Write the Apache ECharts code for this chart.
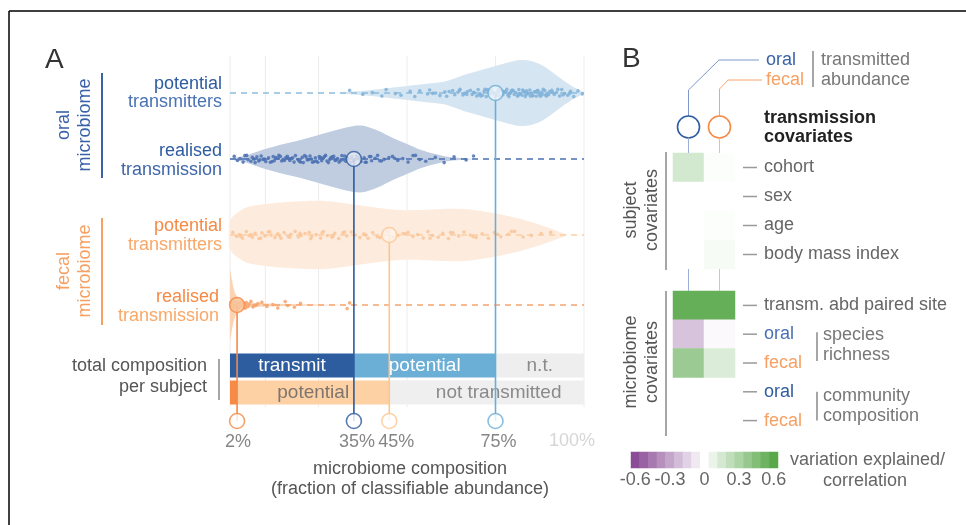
<!DOCTYPE html>
<html><head><meta charset="utf-8">
<script src="https://cdn.jsdelivr.net/npm/echarts@6/dist/echarts.min.js"></script>
<style>html,body{margin:0;padding:0;background:#fff}#c{width:966px;height:525px}</style>
</head><body><div id="c"></div>
<script>
// ================= DATA =================
const rows = ['oral potential transmitters', 'oral realised transmission', 'fecal potential transmitters', 'fecal realised transmission'];
const medians = [75, 35, 45, 2];

const dotsOralPot = [33.8, 37.5, 40.2, 42.9, 44.1, 46.7, 48.3, 50.9, 52.2, 53.6, 55.8, 56.4, 58.1, 59.3, 60.7, 61.2, 62.9, 63.5, 64.4, 65.0, 65.8, 66.3, 67.1, 67.9, 68.4, 69.0, 69.7, 70.1, 70.6, 71.3, 71.8, 72.4, 72.9, 73.3, 73.8, 74.5, 74.9, 75.6, 76.2, 76.7, 77.1, 77.6, 78.2, 78.5, 79.0, 79.4, 79.9, 80.3, 80.7, 81.2, 81.6, 82.0, 82.5, 82.9, 83.4, 83.8, 84.3, 84.7, 85.1, 85.6, 86.0, 86.5, 87.0, 87.4, 87.9, 88.5, 89.1, 89.6, 90.3, 90.9, 91.6, 92.2, 93.1, 93.7, 94.5, 95.4, 96.2, 97.1, 98.3, 99.5, 76.0, 79.2, 81.4, 83.1, 84.9, 86.8, 88.2, 74.1, 72.0, 70.4,
  57.3, 61.9, 64.8, 66.9, 68.8, 70.9, 72.7, 73.6, 75.3, 77.9, 78.8, 80.0, 81.9, 82.7, 84.0, 85.4, 86.2, 87.7, 88.9, 90.0, 91.1, 92.6, 94.0, 95.9, 77.3, 79.6, 83.6, 86.9, 89.4, 75.9];
const dotsOralReal = [1.2, 2.1, 2.8, 3.7, 4.2, 5.1, 5.9, 6.3, 7.1, 7.6, 8.4, 8.8, 9.7, 10.1, 10.9, 11.4, 12.2, 12.5, 13.4, 13.8, 14.6, 15.0, 15.8, 16.2, 16.9, 17.3, 18.1, 18.5, 19.2, 19.6, 20.4, 20.7, 21.5, 21.8, 22.6, 22.9, 23.7, 24.1, 24.8, 25.2, 25.9, 26.3, 27.0, 27.4, 28.2, 28.5, 29.3, 29.7, 30.4, 30.8, 31.6, 32.0, 32.7, 33.1, 34.0, 34.4, 35.3, 35.7, 36.6, 37.0, 37.9, 38.5, 39.4, 40.0, 41.0, 41.7, 42.8, 43.5, 44.9, 45.9, 47.4, 48.8, 50.3, 51.7, 53.6, 55.3, 58.0, 60.5, 63.3, 66.7, 68.8, 6.8, 11.9, 17.7, 23.3, 26.7, 31.2, 36.1,
  4.7, 8.1, 9.3, 12.9, 14.2, 15.4, 16.6, 19.9, 21.1, 22.2, 24.4, 25.6, 27.8, 28.9, 30.0, 32.4, 33.6, 34.8, 36.3, 38.2, 39.8, 42.3, 46.5, 52.4];
const dotsFecalPot = [0.8, 1.9, 2.7, 3.5, 4.6, 5.4, 6.3, 7.1, 8.2, 9.0, 9.9, 10.8, 11.6, 12.7, 13.5, 14.4, 15.3, 16.5, 17.2, 18.4, 19.3, 20.1, 21.2, 22.4, 23.1, 24.3, 25.6, 26.4, 27.5, 28.8, 29.6, 30.7, 31.9, 33.0, 34.2, 35.3, 36.7, 37.8, 39.0, 40.3, 41.6, 43.2, 44.5, 46.1, 47.4, 48.9, 50.3, 51.7, 53.0, 54.6, 55.9, 57.2, 58.8, 60.1, 61.7, 63.0, 64.6, 66.1, 67.9, 69.5, 71.2, 73.0, 74.7, 76.5, 78.6, 80.4, 82.8, 85.1, 87.9, 90.6,
  3.0, 5.9, 8.7, 11.2, 14.0, 16.9, 19.8, 22.8, 26.0, 29.1, 32.4, 38.3, 42.4, 49.6, 56.5, 62.3, 68.7, 75.6, 79.5];
const dotsFecalReal = [0.3, 0.6, 0.9, 1.1, 1.4, 1.7, 1.9, 2.2, 2.4, 2.7, 2.9, 3.2, 3.4, 3.7, 4.0, 4.3, 4.6, 5.0, 5.4, 5.9, 6.5, 7.2, 7.9, 9.0, 10.4, 12.1, 13.5, 15.6, 16.3, 18.2, 19.9, 33.1, 33.8];

// violin outlines: [percent, half-height of density]
const violinOralPot = [[30, 0], [35, 1.5], [40, 3], [45, 5], [50, 7], [55, 9], [60, 11], [63, 14], [66, 18], [70, 22], [75, 27], [79, 31], [82, 33], [85, 32], [88, 28], [91, 21], [94, 13], [97, 6], [100, 0.5]];
const violinOralReal = [[0, 0.5], [2, 1.5], [5, 4], [9, 9], [14, 14], [20, 19], [25, 24], [30, 29], [35, 33], [38, 33], [42, 28], [46, 21], [50, 15], [54, 9], [58, 5], [62, 2], [66, 0.8], [69, 0]];
const violinFecalPot = [[0, 14], [2, 22], [5, 28], [10, 31], [16, 33], [22, 34], [27, 34], [32, 32], [36, 30], [42, 27], [48, 25], [54, 25], [60, 26], [66, 26], [71, 24], [76, 21], [81, 17], [86, 12], [91, 6], [95.5, 0]];
const violinFecalReal = [[0, 36], [0.4, 28], [0.9, 18], [1.5, 11], [2.5, 6], [4, 3.5], [6, 2.2], [10, 1.4], [16, 1], [24, 0.6], [35, 0]];

const gridTicks = [0, 10, 25, 50, 75, 100];
const pctTicks = [2, 35, 45, 75, 100];

const compositionRows = ['oral', 'fecal'];
const compTransmit = [medians[1], medians[3]];
const compPotential = [medians[0] - medians[1], medians[2] - medians[3]];
const compNot = [100 - medians[0], 100 - medians[2]];

const heatCols = ['oral', 'fecal'];
const subjectCovariates = ['cohort', 'sex', 'age', 'body mass index'];
const subjectOral = [0.16, 0, 0, 0];
const subjectFecal = [0.01, 0, 0.01, 0.03];
const microbiomeCovariates = ['transm. abd paired site', 'oral species richness', 'fecal species richness', 'oral community composition', 'fecal community composition'];
const microbiomeOral = [0.55, -0.2, 0.36, null, null];
const microbiomeFecal = [0.55, -0.02, 0.13, null, null];
const colorSteps = [-0.6, -0.525, -0.45, -0.375, -0.3, -0.225, -0.15, -0.075, 0, 0.075, 0.15, 0.225, 0.3, 0.375, 0.45, 0.525, 0.6];
const colorTicks = [-0.6, -0.3, 0, 0.3, 0.6];

// ================= LAYOUT / STYLE =================
const FONT = '"Liberation Sans", Arial, sans-serif';
const ROW_Y = [53, 119, 195, 265];
const BOTTOM_Y = 381;
const GRID_Y0 = 16, GRID_Y1 = 367;
const JITTER = [-2.6, 1.4, -0.4, 3.1, -3.4, 0.6, 2.2, -1.6, 3.6, -2.1, 0.9, -3.0, 0.1, 2.6, -1.1, 3.3, -2.4, 1.7, -0.7, -3.6, 2.0, 0.4, -1.4];
const VIOLINS = [violinOralPot, violinOralReal, violinFecalPot, violinFecalReal];
const DOTS = [dotsOralPot, dotsOralReal, dotsFecalPot, dotsFecalReal];
const VIOLIN_FILL = ['#d5e5f2', '#c0cde1', '#fdecde', '#fbd3b5'];
const DOT_COLOR = ['#80b1d8', '#4a70b2', '#f9c699', '#f6a26b'];
const DASH_COLOR = ['#8cbde0', '#4b70b3', '#fccea4', '#f6a46d'];
const LINE_COLOR = ['#6aaed6', '#2c5a9f', '#fcc692', '#f58a45'];
const CIRCLE_FILL = ['#eef3f9', '#e8ecf4', '#fdf3ea', '#f9c9a4'];
const PCT_COLOR = ['#666', '#666', '#666', '#666', '#ccc'];
const PCT_DX = [1, 3, 7, 3, -12];
const PCT_LINE = [3, 1, 2, 0, -1];

const B1 = {left: 673, top: 153, width: 62, height: 116};
const B2 = {left: 673, top: 291, width: 62, height: 144};

const series = [];

// gridlines
gridTicks.forEach(t => series.push({
  type: 'line', xAxisIndex: 0, yAxisIndex: 0, silent: true, symbol: 'none', z: 1,
  data: [[t, GRID_Y0], [t, GRID_Y1]], lineStyle: {color: '#ececec', width: 1}
}));

// violins
series.push({
  type: 'custom', xAxisIndex: 0, yAxisIndex: 0, silent: true, z: 2,
  data: rows.map((r, i) => [i, ROW_Y[i]]),
  renderItem: function (params, api) {
    const i = api.value(0);
    const prof = VIOLINS[i], cy = ROW_Y[i];
    const top = prof.map(p => api.coord([p[0], cy - p[1]]));
    const bot = prof.slice().reverse().map(p => api.coord([p[0], cy + p[1]]));
    return {type: 'polygon', shape: {points: top.concat(bot), smooth: i === 3 ? 0 : 0.3}, style: {fill: VIOLIN_FILL[i]}};
  }
});

// dashed row lines
rows.forEach((r, i) => series.push({
  type: 'line', xAxisIndex: 0, yAxisIndex: 0, silent: true, symbol: 'none', z: 3,
  data: [[0, ROW_Y[i]], [100, ROW_Y[i]]], lineStyle: {color: DASH_COLOR[i], width: 1.5, type: [6, 5]}
}));

// dots
rows.forEach((r, i) => series.push({
  type: 'scatter', name: r, xAxisIndex: 0, yAxisIndex: 0, silent: true, z: 4,
  symbolSize: 3.6, itemStyle: {color: DOT_COLOR[i], opacity: 0.85},
  data: DOTS[i].map((x, k) => [x, ROW_Y[i] + JITTER[k % JITTER.length]])
}));

// vertical median lines
rows.forEach((r, i) => series.push({
  type: 'line', xAxisIndex: 0, yAxisIndex: 0, silent: true, symbol: 'none', z: 6,
  data: [[medians[i], ROW_Y[i]], [medians[i], BOTTOM_Y]], lineStyle: {color: LINE_COLOR[i], width: 1.6}
}));

// median circles in rows
series.push({
  type: 'scatter', xAxisIndex: 0, yAxisIndex: 0, silent: true, z: 7, symbolSize: 15,
  data: rows.map((r, i) => ({value: [medians[i], ROW_Y[i]], itemStyle: {color: CIRCLE_FILL[i], borderColor: LINE_COLOR[i], borderWidth: 1.6}}))
});

// bottom circles + percent labels
series.push({
  type: 'scatter', xAxisIndex: 0, yAxisIndex: 0, silent: true, z: 7, clip: false,
  data: pctTicks.map((v, k) => {
    const li = PCT_LINE[k];
    return {
      value: [v, BOTTOM_Y], name: v + '%',
      symbolSize: li >= 0 ? 15 : 0,
      itemStyle: {color: '#fff', borderColor: li >= 0 ? LINE_COLOR[li] : '#fff', borderWidth: 1.6},
      label: {show: true, position: 'bottom', distance: li >= 0 ? 4 : 11.5, formatter: '{b}', offset: [PCT_DX[k], 0], color: PCT_COLOR[k], fontSize: 18, fontFamily: FONT}
    };
  })
});

// composition bars
const barLabel = (txt, col) => ({show: true, position: 'inside', formatter: txt, color: col, fontSize: 19, fontFamily: FONT});
series.push({
  type: 'bar', name: 'transmitted', stack: 'total', xAxisIndex: 1, yAxisIndex: 1, barWidth: 24, z: 3, silent: true,
  data: [
    {value: compTransmit[0], itemStyle: {color: '#2d5c9f'}, label: barLabel('transmit', '#fff')},
    {value: compTransmit[1], itemStyle: {color: '#f68a46'}}
  ]
});
series.push({
  type: 'bar', name: 'potential', stack: 'total', xAxisIndex: 1, yAxisIndex: 1, barWidth: 24, z: 3, silent: true,
  data: [
    {value: compPotential[0], itemStyle: {color: '#6baed6'}, label: barLabel('potential', '#fff')},
    {value: compPotential[1], itemStyle: {color: '#fdd1a3'}, label: barLabel('potential', '#7d7570')}
  ]
});
series.push({
  type: 'bar', name: 'not transmitted', stack: 'total', xAxisIndex: 1, yAxisIndex: 1, barWidth: 24, z: 3, silent: true,
  data: [
    {value: compNot[0], itemStyle: {color: '#efeeee'}, label: barLabel('n.t.', '#8a8a8a')},
    {value: compNot[1], itemStyle: {color: '#f0efef'}, label: Object.assign(barLabel('not transmitted', '#8a8a8a'), {offset: [12, 0]})}
  ]
});

// heatmaps
const hm = (oral, fecal) => {
  const d = [];
  oral.forEach((v, r) => { if (v !== null) d.push([0, r, v]); });
  fecal.forEach((v, r) => { if (v !== null) d.push([1, r, v]); });
  return d;
};
series.push({type: 'heatmap', xAxisIndex: 2, yAxisIndex: 2, silent: true, data: hm(subjectOral, subjectFecal), itemStyle: {borderWidth: 0}});
series.push({type: 'heatmap', xAxisIndex: 3, yAxisIndex: 3, silent: true, data: hm(microbiomeOral, microbiomeFecal), itemStyle: {borderWidth: 0}});
series.push({type: 'heatmap', xAxisIndex: 4, yAxisIndex: 4, silent: true, data: colorSteps.map((v, k) => [k, 0, v])});
const HM_SERIES = [series.length - 3, series.length - 2, series.length - 1];

// ================= GRAPHICS (labels, annotation) =================
const g = [];
const T = (text, x, y, o) => {
  o = o || {};
  g.push({
    type: 'text', x: x, y: y, rotation: o.rot || 0, z: 100, silent: true,
    style: {text: text, fill: o.color || '#555', font: (o.weight || 'normal') + ' ' + (o.size || 18) + 'px ' + FONT,
      align: o.align || 'left', verticalAlign: 'middle', lineHeight: o.lh || 21}
  });
};
const L = (x1, y1, x2, y2, color, w) => g.push({type: 'line', silent: true, z: 90, shape: {x1, y1, x2, y2}, style: {stroke: color, lineWidth: w || 1.5}});
const P = (pts, color, w) => g.push({type: 'polyline', silent: true, z: 90, shape: {points: pts}, style: {stroke: color, lineWidth: w || 1, fill: null}});
const C = (cx, cy, r, color) => g.push({type: 'circle', silent: true, z: 90, shape: {cx, cy, r}, style: {stroke: color, lineWidth: 1.6, fill: '#fff'}});

// figure border
L(9, 11, 966, 11, '#000', 1.5);
L(9, 11, 9, 525, '#000', 1.5);

// Panel A
T('A', 45, 60, {size: 28, color: '#333'});
T('oral\nmicrobiome', 75, 125, {rot: Math.PI / 2, color: '#3a62a8', align: 'center'});
T('fecal\nmicrobiome', 75, 271, {rot: Math.PI / 2, color: '#f7a063', align: 'center'});
L(102, 73, 102, 178, '#3a62a8', 2);
L(102, 218, 102, 325, '#f7a063', 2);
T('potential', 222, 84, {align: 'right', color: '#2e5ca0'});
T('transmitters', 222, 102, {align: 'right', color: '#4a72b4'});
T('realised', 222, 151, {align: 'right', color: '#2e5ca0'});
T('transmission', 222, 170, {align: 'right', color: '#3f66aa'});
T('potential', 222, 226, {align: 'right', color: '#f58a45'});
T('transmitters', 222, 245, {align: 'right', color: '#f9a868'});
T('realised', 219, 297, {align: 'right', color: '#f58a45'});
T('transmission', 219, 316, {align: 'right', color: '#f9a868'});
T('total composition', 207, 366, {align: 'right', color: '#555'});
T('per subject', 207, 387, {align: 'right', color: '#555'});
L(219, 359, 219, 400, '#888', 1.5);
T('microbiome composition', 410, 469, {align: 'center', color: '#555'});
T('(fraction of classifiable abundance)', 410, 489, {align: 'center', color: '#555'});

// Panel B
T('B', 622, 59, {size: 28, color: '#333'});
const colX = [B1.left + B1.width / 4, B1.left + 3 * B1.width / 4];
P([[759, 60], [719, 60], [colX[0], 90], [colX[0], 116]], '#7d98c9', 1);
P([[762, 80], [728, 80], [colX[1], 89], [colX[1], 116]], '#f7a46d', 1);
C(colX[0], 127, 11, '#2e5ca0');
C(colX[1], 127, 11, '#f58a45');
[0, 1].forEach(k => {
  const c = k === 0 ? '#9bb0d6' : '#f9b98e';
  L(colX[k], 138, colX[k], B1.top, c, 1);
  L(colX[k], B1.top + B1.height, colX[k], B2.top, c, 1);
});
T('oral', 766, 60, {color: '#3a62a8'});
T('fecal', 766, 80, {color: '#f7a063'});
L(813, 51, 813, 87, '#888', 1.5);
T('transmitted', 821, 60, {color: '#777'});
T('abundance', 821, 80, {color: '#777'});
T('transmission', 764, 118, {color: '#222', weight: 'bold'});
T('covariates', 764, 137, {color: '#222', weight: 'bold'});

const rowLabel = (txt, y, color) => { L(743, y, 757, y, '#9a9a9a', 1.5); T(txt, 764, y, {color: color || '#666'}); };
const h1 = B1.height / subjectCovariates.length;
subjectCovariates.forEach((s, k) => rowLabel(s, B1.top + (k + 0.5) * h1));
const h2 = B2.height / microbiomeCovariates.length;
const mLabels = ['transm. abd paired site', 'oral', 'fecal', 'oral', 'fecal'];
const mColors = ['#666', '#4a70b4', '#f7a063', '#2e5ca0', '#f7a063'];
mLabels.forEach((s, k) => rowLabel(s, B2.top + (k + 0.5) * h2, mColors[k]));
const yr = k => B2.top + (k + 0.5) * h2;
L(817, yr(1) - 2, 817, yr(2) - 2, '#888', 1.5);
T('species', 823, yr(1) + 1, {color: '#777'});
T('richness', 823, yr(1) + 21, {color: '#777'});
L(817, yr(3), 817, yr(4), '#888', 1.5);
T('community', 823, yr(3) + 4, {color: '#777'});
T('composition', 823, yr(3) + 24, {color: '#777'});

T('subject\ncovariates', 642, 210, {rot: Math.PI / 2, color: '#555', align: 'center'});
T('microbiome\ncovariates', 642, 362, {rot: Math.PI / 2, color: '#555', align: 'center'});
L(666, B1.top - 1, 666, B1.top + B1.height + 1, '#888', 1.5);
L(666, B2.top, 666, B2.top + B2.height + 1, '#888', 1.5);

T('variation explained/', 790, 460, {color: '#666'});
T('correlation', 865, 481, {color: '#666', align: 'center'});

// ================= OPTION =================
const option = {
  animation: false,
  backgroundColor: '#fff',
  grid: [
    {left: 230, top: 40, width: 354, height: 400},
    {left: 230, top: 352, width: 354, height: 54},
    B1, B2,
    {left: 631, top: 452, width: 147, height: 16}
  ],
  xAxis: [
    {type: 'value', gridIndex: 0, min: 0, max: 100, show: false},
    {type: 'value', gridIndex: 1, min: 0, max: 100, show: false},
    {type: 'category', gridIndex: 2, data: heatCols, show: false},
    {type: 'category', gridIndex: 3, data: heatCols, show: false},
    {type: 'category', gridIndex: 4, data: colorSteps.map(String), show: false},
    {type: 'value', gridIndex: 4, min: -0.6375, max: 0.6375, position: 'bottom',
      axisLine: {show: false}, splitLine: {show: false},
      axisTick: {show: true, inside: true, length: 7, customValues: [-0.3, 0.3], lineStyle: {color: '#fff', width: 1.5}},
      axisLabel: {show: true, customValues: colorTicks, margin: 3, color: '#666', fontSize: 18, fontFamily: FONT, formatter: v => String(v)}}
  ],
  yAxis: [
    {type: 'value', gridIndex: 0, min: 0, max: 400, inverse: true, show: false},
    {type: 'category', gridIndex: 1, data: compositionRows, inverse: true, show: false},
    {type: 'category', gridIndex: 2, data: subjectCovariates, inverse: true, show: false},
    {type: 'category', gridIndex: 3, data: microbiomeCovariates, inverse: true, show: false},
    {type: 'category', gridIndex: 4, data: [''], show: false}
  ],
  visualMap: {type: 'continuous', min: -0.6, max: 0.6, show: false, seriesIndex: HM_SERIES, dimension: 2,
    inRange: {color: ['#8a4c96', '#ffffff', '#58a84a']}},
  series: series,
  graphic: g
};
const chart = echarts.init(document.getElementById('c'), null, {renderer: 'canvas'});
chart.setOption(option);
</script>
</body></html>
